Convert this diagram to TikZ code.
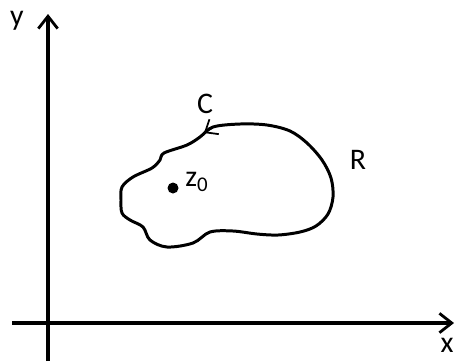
\documentclass[tikz,border=0pt]{standalone}
\usepackage{fontspec}
\setmainfont{Carlito}
\usetikzlibrary{arrows.meta}
\begin{document}
\begin{tikzpicture}[x=0.02cm, y=-0.02cm, every node/.style={font=\fontsize{17}{20}\selectfont, inner sep=0pt},
  axis/.style={line width=2pt, -{Straight Barb[length=7pt, width=11pt, line width=1.6pt]}}]
  \useasboundingbox (0,0) rectangle (455,363);

  % axes
  \coordinate (xstart) at (12,323);
  \coordinate (xend) at (454,323);
  \coordinate (ystart) at (48,361);
  \coordinate (yend) at (48,14);
  \draw[axis] (xstart) -- (xend);
  \draw[axis] (ystart) -- (yend);
  \node (ylabel) at (17,21) {y};
  \node (xlabel) at (447,345) {x};

  % curve C
  \draw[line width=1.7pt] plot[smooth cycle, tension=0.55] coordinates {
    (213,127) (240,124) (267,125) (290,131) (307,143) (322,160) (331,178)
    (333,197) (328,214) (316,226) (300,232) (278,235) (257,234) (233,231)
    (210,232) (193,243) (167,247) (150,240) (143,227) (130,220) (122,213)
    (121,200) (122,187) (133,177) (152,168) (160,160) (164,153) (187,145)
    (200,137)};
  \draw[line width=1pt, -{Straight Barb[length=6pt, width=10pt]}] (212,128) -- (204,133);

  \node (clabel) at (205,104) {C};
  \node (rlabel) at (358,160) {R};
  \fill (173,188) circle (5.5);
  \node (z0) at (197,182) {z\textsubscript{0}};
\end{tikzpicture}
\end{document}
